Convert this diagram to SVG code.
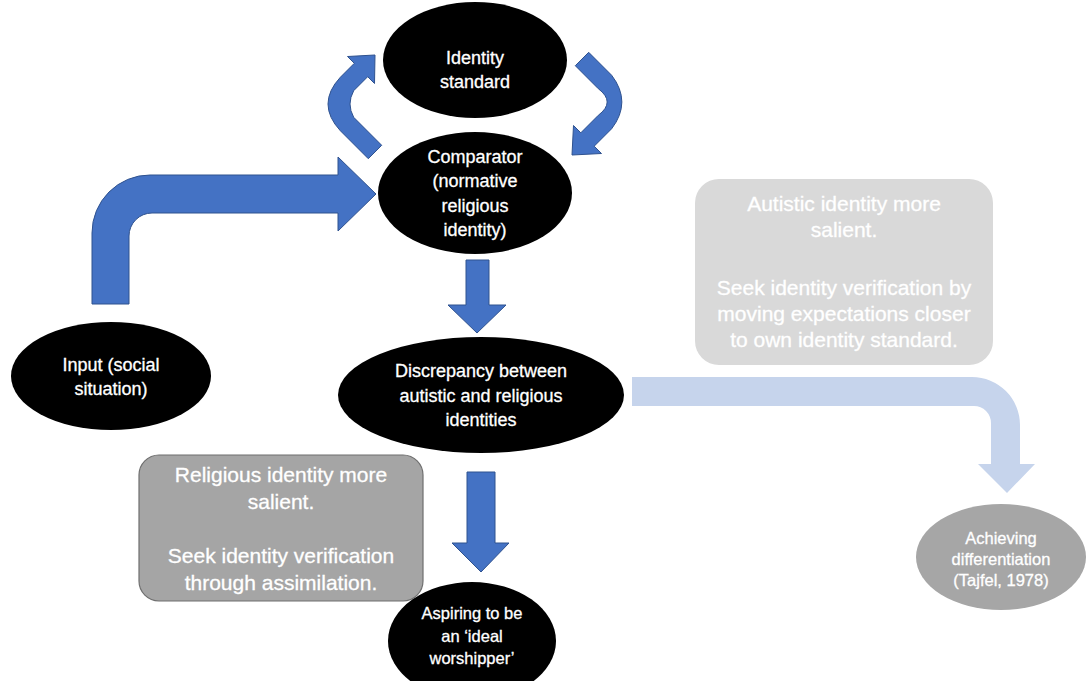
<svg xmlns="http://www.w3.org/2000/svg" width="1086" height="681" viewBox="0 0 1086 681">
  <style>
    .node { fill: #000000; }
    .lbl { font-family: "Liberation Sans", Arial, sans-serif; fill: #ffffff; stroke: #ffffff; stroke-width: 0.3; text-anchor: middle; }
    .e18 { font-size: 18px; }
    .e16 { font-size: 16.5px; }
    .box { font-size: 21px; }
    .arrow { fill: #4472c4; stroke: #2f528f; stroke-width: 1; stroke-linejoin: miter; }
    .faint { fill: #c6d4ec; }
  </style>
  <rect x="0" y="0" width="1086" height="681" fill="#ffffff"/>

  <!-- connectors -->
  <g id="connectors">
    <!-- input to comparator (bent block arrow) -->
    <path class="arrow" d="M92 304 L92 233 A58 58 0 0 1 150 175 L338 175 L338 157 L376 194 L338 231 L338 213 L152 213 A23 23 0 0 0 129 236 L129 304 Z"/>
    <!-- comparator back up to identity standard -->
    <path class="arrow" d="M381.7 145.3 L353.7 117.3 Q346.3 104 353.7 90.7 L367.7 76.7 L374.5 83.5 L375 55 L347.5 56.5 L354.3 63.3 L340.3 77.3 Q315.7 104 340.3 130.7 L368.3 158.7 Z"/>
    <!-- identity standard down to comparator -->
    <path class="arrow" d="M588.7 52.3 L611.7 75.3 Q632 102 611.7 128.7 L594.2 146.2 L601.5 153.5 L572 155 L573.5 125.5 L580.8 132.8 L598.3 115.3 Q616 102 598.3 88.7 L575.3 65.7 Z"/>
    <!-- comparator to discrepancy -->
    <path class="arrow" d="M466 260 L489 260 L489 305 L506 305 L477 333 L448 305 L466 305 Z"/>
    <!-- discrepancy to ideal worshipper -->
    <path class="arrow" d="M467 472 L495 472 L495 543 L509 543 L481 572 L452 543 L467 543 Z"/>
    <!-- discrepancy to differentiation (faded) -->
    <path class="faint" d="M632 377 L972 377 A48 48 0 0 1 1020 425 L1020 464 L1035 464 L1007 493 L978 464 L991 464 L991 423 A17 17 0 0 0 974 406 L632 406 Z"/>
  </g>

  <!-- side notes -->
  <g id="note-religious">
    <rect x="139" y="455" width="284" height="146" rx="20" ry="20" fill="#a5a5a5" stroke="#6f6f6f" stroke-width="1.2"/>
    <text class="lbl box" x="281" y="482">Religious identity more</text>
    <text class="lbl box" x="281" y="509">salient.</text>
    <text class="lbl box" x="281" y="563">Seek identity verification</text>
    <text class="lbl box" x="281" y="590">through assimilation.</text>
  </g>
  <g id="note-autistic">
    <rect x="695" y="179" width="298" height="186" rx="24" ry="24" fill="#d9d9d9"/>
    <text class="lbl box" x="844" y="211">Autistic identity more</text>
    <text class="lbl box" x="844" y="237">salient.</text>
    <text class="lbl box" x="844" y="295">Seek identity verification by</text>
    <text class="lbl box" x="844" y="321">moving expectations closer</text>
    <text class="lbl box" x="844" y="347">to own identity standard.</text>
  </g>

  <!-- nodes -->
  <g id="identity-standard">
    <ellipse class="node" cx="475" cy="60" rx="92" ry="58"/>
    <text class="lbl e18" x="475" y="64">Identity</text>
    <text class="lbl e18" x="475" y="88">standard</text>
  </g>
  <g id="comparator">
    <ellipse class="node" cx="475" cy="193" rx="97" ry="61"/>
    <text class="lbl e18" x="475" y="163">Comparator</text>
    <text class="lbl e18" x="475" y="187">(normative</text>
    <text class="lbl e18" x="475" y="212">religious</text>
    <text class="lbl e18" x="475" y="236">identity)</text>
  </g>
  <g id="input">
    <ellipse class="node" cx="111" cy="376" rx="100" ry="54"/>
    <text class="lbl e18" x="111" y="371">Input (social</text>
    <text class="lbl e18" x="111" y="395">situation)</text>
  </g>
  <g id="discrepancy">
    <ellipse class="node" cx="481" cy="395" rx="143" ry="58"/>
    <text class="lbl e18" x="481" y="377">Discrepancy between</text>
    <text class="lbl e18" x="481" y="402">autistic and religious</text>
    <text class="lbl e18" x="481" y="426">identities</text>
  </g>
  <g id="ideal-worshipper">
    <ellipse class="node" cx="472" cy="641" rx="84" ry="59"/>
    <text class="lbl e16" x="472" y="619">Aspiring to be</text>
    <text class="lbl e16" x="472" y="642">an ‘ideal</text>
    <text class="lbl e16" x="472" y="664">worshipper’</text>
  </g>
  <g id="differentiation">
    <ellipse cx="1001" cy="557" rx="85" ry="53" fill="#a6a6a6"/>
    <text class="lbl e16" x="1001" y="544">Achieving</text>
    <text class="lbl e16" x="1001" y="565">differentiation</text>
    <text class="lbl e16" x="1001" y="586">(Tajfel, 1978)</text>
  </g>
</svg>
